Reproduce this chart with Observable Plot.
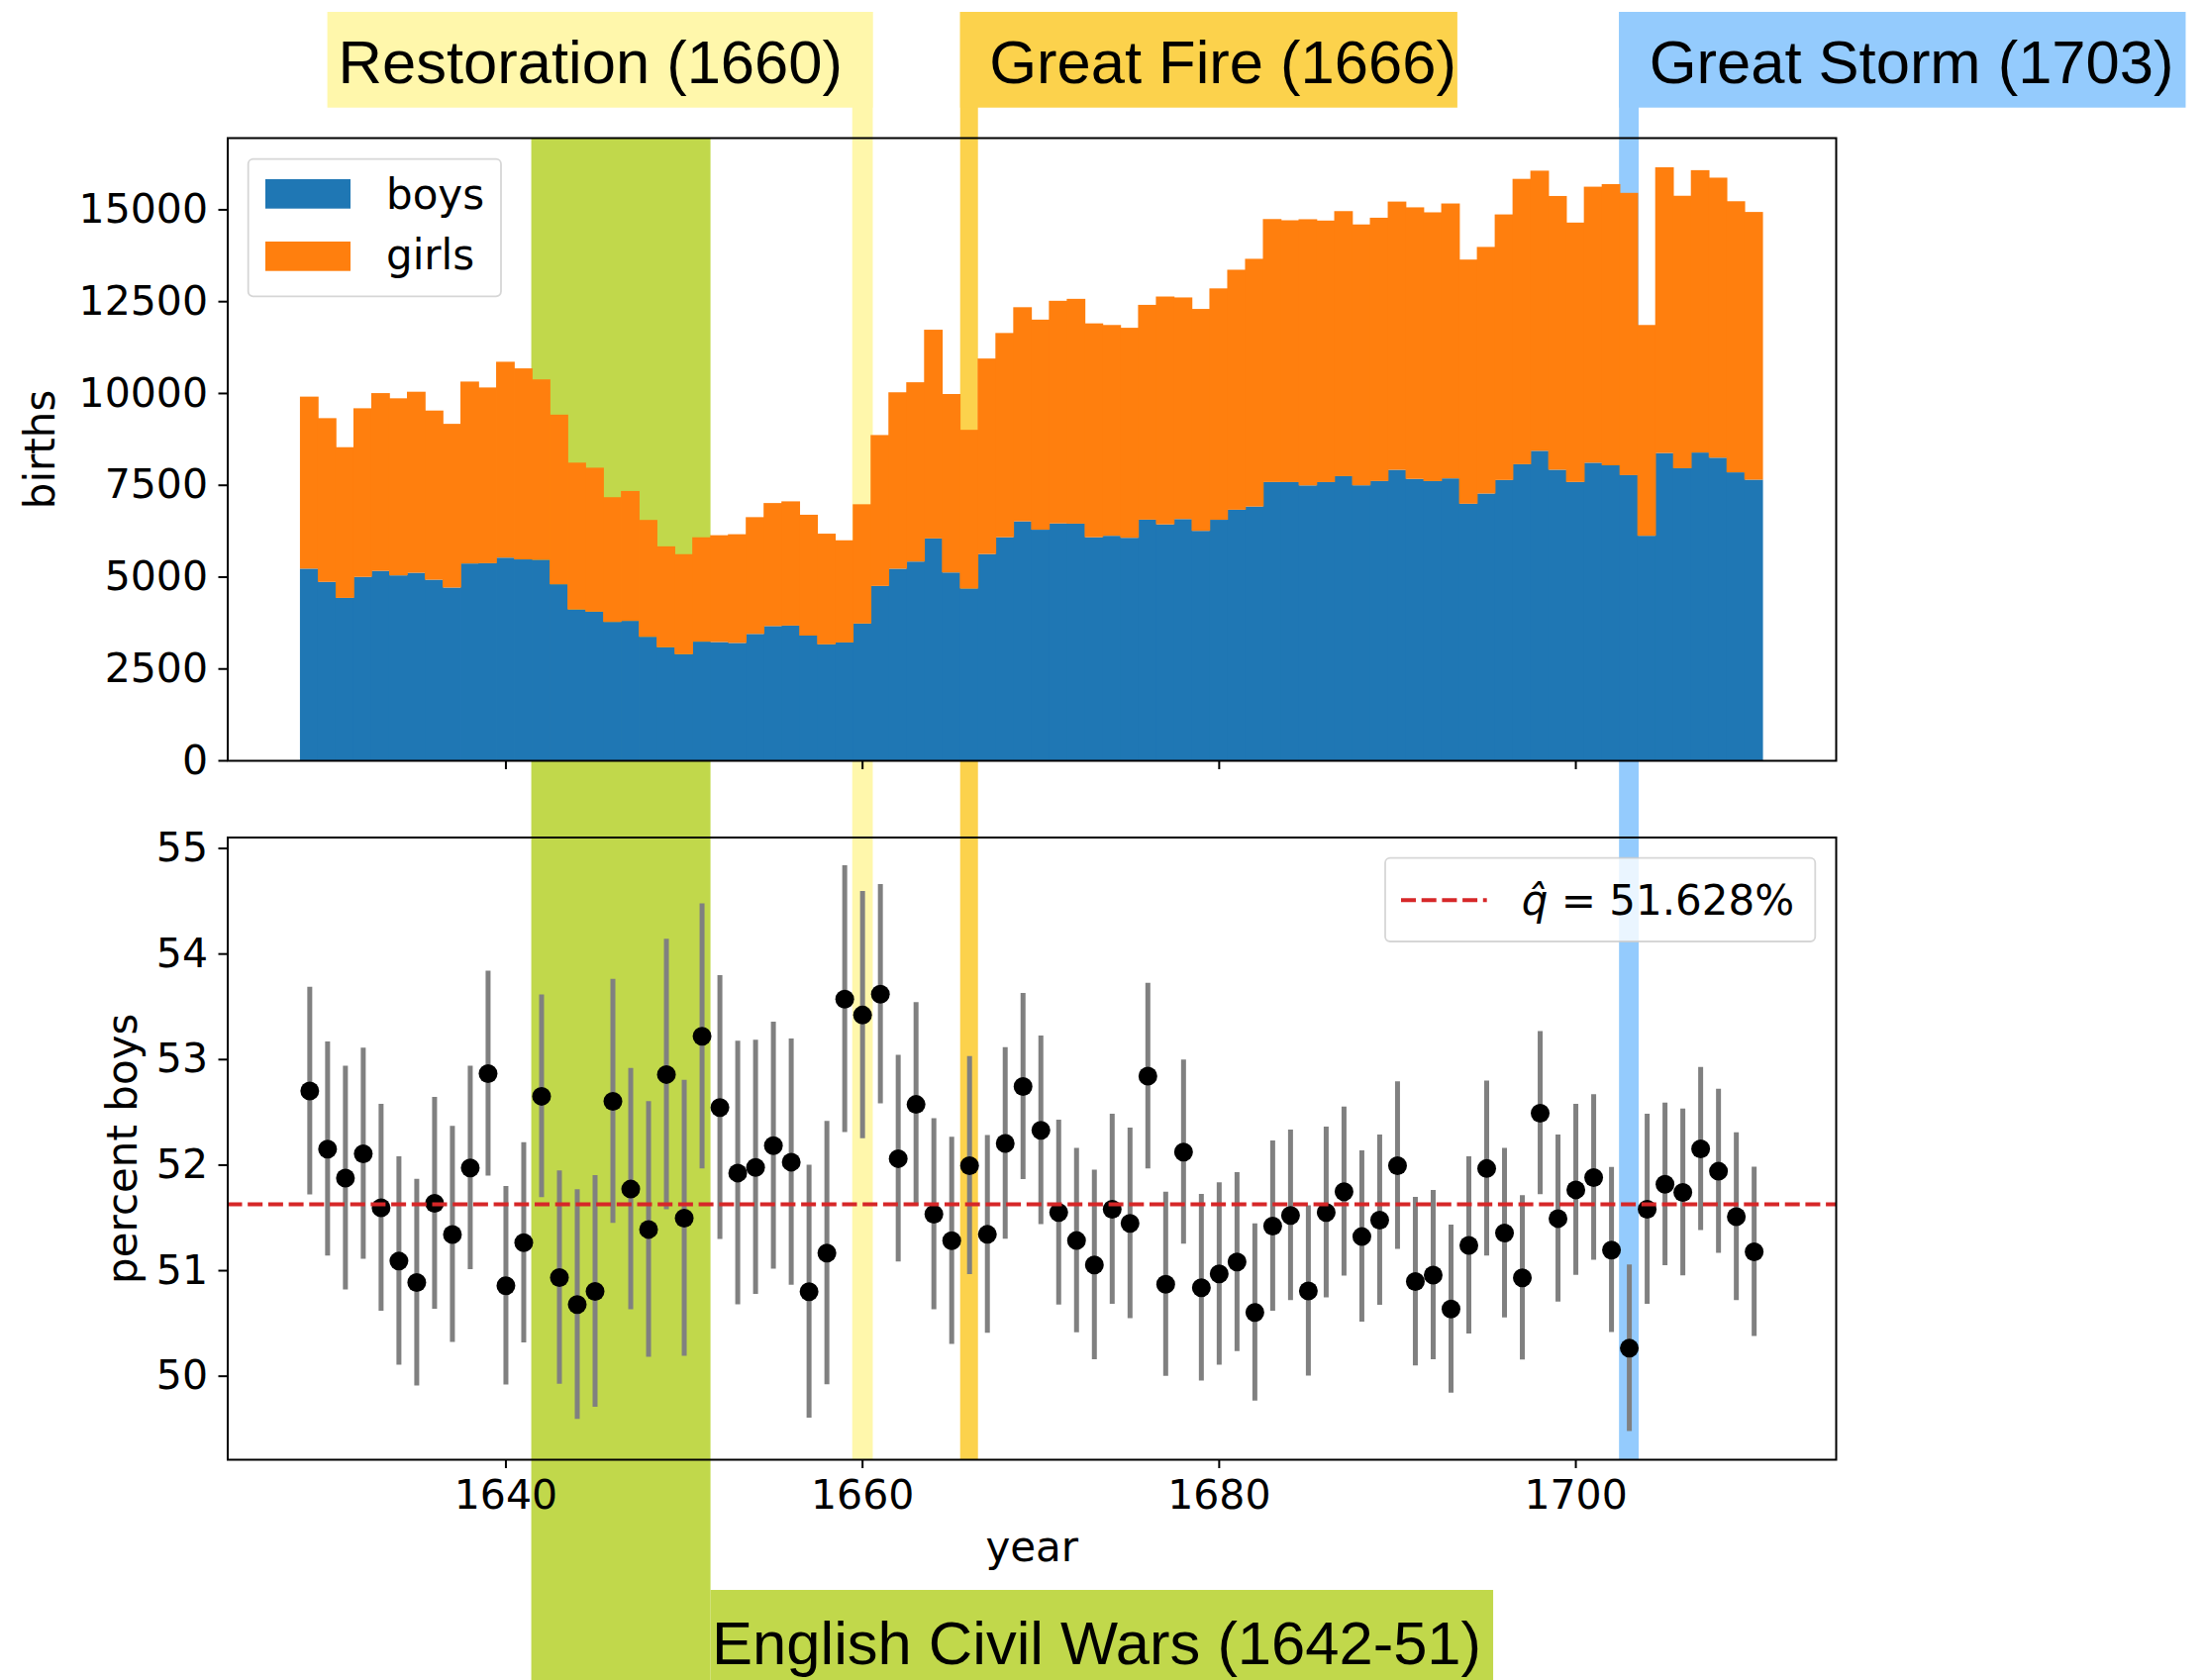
<!DOCTYPE html>
<html>
<head>
<meta charset="utf-8">
<script src="https://cdn.jsdelivr.net/npm/d3@7"></script>
<script src="https://cdn.jsdelivr.net/npm/@observablehq/plot@0.6"></script>
<style>
html, body { margin: 0; padding: 0; background: #fff; }
#chart { position: relative; width: 2228px; height: 1697px; overflow: hidden; background: #fff; }
#chart > svg { position: absolute; left: 0; margin: 0; max-width: none; }
</style>
</head>
<body>
<div id="chart"></div>
<script>
// ---------------- data ----------------
const years = [1629,1630,1631,1632,1633,1634,1635,1636,1637,1638,1639,1640,1641,1642,1643,1644,1645,1646,1647,1648,
  1649,1650,1651,1652,1653,1654,1655,1656,1657,1658,1659,1660,1661,1662,1663,1664,1665,1666,1667,1668,
  1669,1670,1671,1672,1673,1674,1675,1676,1677,1678,1679,1680,1681,1682,1683,1684,1685,1686,1687,1688,
  1689,1690,1691,1692,1693,1694,1695,1696,1697,1698,1699,1700,1701,1702,1703,1704,1705,1706,1707,1708,
  1709,1710];
const boys = [5218,4858,4422,4994,5158,5035,5106,4917,4703,5359,
  5366,5518,5470,5460,4793,4107,4047,3768,3796,3363,
  3079,2890,3231,3220,3196,3441,3655,3668,3396,3157,
  3209,3724,4748,5216,5411,6041,5114,4678,5616,6073,
  6506,6278,6449,6443,6073,6113,6058,6552,6423,6568,
  6247,6548,6822,6909,7577,7575,7484,7575,7737,7487,
  7604,7909,7662,7602,7676,6985,7263,7632,8062,8426,
  7911,7578,8102,8031,7765,6113,8366,7952,8379,8239,
  7840,7640];
const girls = [4683,4457,4102,4590,4839,4820,4928,4605,4457,4952,
  4784,5332,5200,4910,4617,3997,3919,3395,3536,3181,
  2746,2722,2840,2908,2959,3179,3349,3382,3289,3013,
  2781,3247,4107,4803,4881,5681,4858,4319,5322,5560,
  5829,5719,6061,6120,5822,5738,5717,5847,6203,6033,
  6041,6299,6533,6744,7158,7127,7246,7119,7214,7101,
  7167,7302,7392,7316,7483,6647,6713,7229,7767,7626,
  7452,7061,7514,7656,7683,5738,7779,7417,7687,7623,
  7380,7288];
const qHat = 51.628;
const birthTicks = [0,2500,5000,7500,10000,12500,15000];
const pctTicks = [50,51,52,53,54,55];
const yearTicks = [1640,1660,1680,1700];
const eventNames = ["English Civil Wars (1642-51)", "Restoration (1660)", "Great Fire (1666)", "Great Storm (1703)"];
const eventStart = [1641.45, 1659.45, 1665.5, 1702.45];
const eventEnd = [1651.5, 1660.6, 1666.5, 1703.55];
const seriesNames = ["boys", "girls"];

// ---------------- styles / layout ----------------
const W = 2228, H = 1697;
const mL = 229.5, mR = 374;
const eventColors = ["#c1d84b", "#fff7ab", "#fcd24c", "#94cbfd"];
const seriesColors = ["#1f77b4", "#ff7f0e"];
const tickFont = "'DejaVu Sans', sans-serif";
const labelFont = "'Liberation Sans', Arial, Helvetica, sans-serif";
const evLayout = [
  {bandTop: 139, bandBottom: H, boxTop: 1606, boxBottom: H, baseline: 1680, at: "end", anchor: "start", dx: 1, grow: "right", pad: 12},
  {bandTop: 12, bandBottom: 1474, boxTop: 12, boxBottom: 108.7, baseline: 83.5, at: "end", anchor: "end", dx: -31, grow: "left", pad: 11},
  {bandTop: 12, bandBottom: 1474, boxTop: 12, boxBottom: 108.7, baseline: 83.5, at: "start", anchor: "start", dx: 29, grow: "right", pad: 1},
  {bandTop: 12, bandBottom: 1474, boxTop: 12, boxBottom: 108.7, baseline: 83.5, at: "start", anchor: "start", dx: 30, grow: "right", pad: 12}
];

// ---------------- derived table ----------------
const rows = years.map((year, i) => {
  const n = boys[i] + girls[i];
  const p = boys[i] / n;
  const half = 1.96 * Math.sqrt(p * (1 - p) / n);
  return {year, boys: boys[i], girls: girls[i], total: n, pct: 100 * p, lo: 100 * (p - half), hi: 100 * (p + half)};
});
const x0 = d3.min(years) - 0.5, x1 = d3.max(years) + 0.5;
const xDomain = [x0 - 0.05 * (x1 - x0), x1 + 0.05 * (x1 - x0)];
const birthMax = d3.max(rows, d => d.total) * 1.05;
const pLo = d3.min(rows, d => d.lo), pHi = d3.max(rows, d => d.hi);
const pctDomain = [pLo - 0.05 * (pHi - pLo), pHi + 0.05 * (pHi - pLo)];
const events = eventNames.map((name, i) => ({name, start: eventStart[i], end: eventEnd[i]}));

const chart = document.getElementById("chart");

// ---------------- background: event bands + labels ----------------
const bgMarks = [];
events.forEach((ev, i) => {
  const L = evLayout[i];
  bgMarks.push(Plot.rect([ev], {x1: "start", x2: "end", y1: L.bandTop, y2: L.bandBottom, fill: eventColors[i]}));
});
events.forEach((ev, i) => {
  const L = evLayout[i];
  bgMarks.push(Plot.text([ev], {x: L.at, y: L.baseline, text: "name", textAnchor: L.anchor, lineAnchor: "bottom",
    dx: L.dx, fontSize: 61.5, fontFamily: labelFont, fill: "black"}));
});
const bg = Plot.plot({
  width: W, height: H, marginLeft: mL, marginRight: mR, marginTop: 0, marginBottom: 0,
  x: {domain: xDomain, axis: null},
  y: {type: "identity", axis: null},
  style: {background: "transparent", overflow: "visible"},
  marks: bgMarks
});
bg.style.top = "0px";
chart.appendChild(bg);
{
  const xs = bg.scale("x");
  const sRect = bg.getBoundingClientRect();
  const texts = Array.from(bg.querySelectorAll("text"));
  events.forEach((ev, i) => {
    const L = evLayout[i];
    const t = texts.find(el => el.textContent === ev.name);
    if (!t) return;
    const r = t.getBoundingClientRect();
    const tl = r.left - sRect.left, tr = r.right - sRect.left;
    let left, right;
    if (L.grow === "left") { left = tl - L.pad; right = xs.apply(ev.end); }
    else { left = xs.apply(ev[L.at]); right = tr + L.pad; }
    const g = t.parentNode;
    const rect = document.createElementNS("http://www.w3.org/2000/svg", "rect");
    rect.setAttribute("x", left);
    rect.setAttribute("y", L.boxTop);
    rect.setAttribute("width", right - left);
    rect.setAttribute("height", L.boxBottom - L.boxTop);
    rect.setAttribute("fill", eventColors[i]);
    g.parentNode.insertBefore(rect, g);
  });
}

// ---------------- top panel: births ----------------
const topPlot = Plot.plot({
  width: W, height: 800, marginLeft: mL, marginRight: mR, marginTop: 139, marginBottom: 32,
  x: {domain: xDomain},
  y: {domain: [0, birthMax]},
  style: {background: "transparent", overflow: "visible", fontFamily: tickFont},
  marks: [
    Plot.rect(rows, {x1: d => d.year - 0.5, x2: d => d.year + 0.5, y1: 0, y2: "boys", fill: seriesColors[0], insetLeft: -0.4, insetRight: -0.4}),
    Plot.rect(rows, {x1: d => d.year - 0.5, x2: d => d.year + 0.5, y1: "boys", y2: "total", fill: seriesColors[1], insetLeft: -0.4, insetRight: -0.4}),
    Plot.axisY({ticks: birthTicks, tickSize: 9, tickPadding: 11, fontSize: 41, tickFormat: d3.format("d"), label: null, strokeWidth: 2, stroke: "black", fill: "black"}),
    Plot.axisX({ticks: yearTicks, tickSize: 9, tickFormat: () => "", label: null, strokeWidth: 2, stroke: "black"}),
    Plot.text(["births"], {frameAnchor: "left", dx: 41 - mL, rotate: -90, textAnchor: "middle", lineAnchor: "middle", fontSize: 42, fill: "black", fontFamily: tickFont}),
    Plot.frame({stroke: "black", strokeWidth: 2})
  ]
});
topPlot.style.top = "0px";
chart.appendChild(topPlot);

// ---------------- bottom panel: percent boys ----------------
const botTop = 780;
const botPlot = Plot.plot({
  width: W, height: H - botTop, marginLeft: mL, marginRight: mR, marginTop: 845.5 - botTop, marginBottom: H - 1474,
  x: {domain: xDomain},
  y: {domain: pctDomain},
  style: {background: "transparent", overflow: "visible", fontFamily: tickFont},
  marks: [
    Plot.ruleX(rows, {x: "year", y1: "lo", y2: "hi", stroke: "#808080", strokeWidth: 5}),
    Plot.dot(rows, {x: "year", y: "pct", r: 9.5, fill: "black"}),
    Plot.ruleY([qHat], {stroke: "#d62728", strokeWidth: 4, strokeDasharray: "15,5.7"}),
    Plot.axisY({ticks: pctTicks, tickSize: 9, tickPadding: 11, fontSize: 41, tickFormat: d3.format("d"), label: null, strokeWidth: 2, stroke: "black", fill: "black"}),
    Plot.axisX({ticks: yearTicks, tickSize: 9, tickPadding: 11, fontSize: 41, tickFormat: d3.format("d"), label: null, strokeWidth: 2, stroke: "black", fill: "black"}),
    Plot.text(["percent boys"], {frameAnchor: "left", dx: 124 - mL, rotate: -90, textAnchor: "middle", lineAnchor: "middle", fontSize: 42, fill: "black", fontFamily: tickFont}),
    Plot.text(["year"], {frameAnchor: "bottom", dy: 102, lineAnchor: "bottom", fontSize: 42, fill: "black", fontFamily: tickFont}),
    Plot.frame({stroke: "black", strokeWidth: 2})
  ]
});
botPlot.style.top = botTop + "px";
chart.appendChild(botPlot);

// ---------------- legends overlay ----------------
const ov = d3.create("svg").attr("width", W).attr("height", H).style("top", "0px")
  .attr("font-family", tickFont);
// top legend
ov.append("rect").attr("x", 250.7).attr("y", 160.7).attr("width", 255.3).attr("height", 138.6).attr("rx", 5)
  .attr("fill", "white").attr("fill-opacity", 0.8).attr("stroke", "#cccccc").attr("stroke-opacity", 0.8).attr("stroke-width", 1.8);
seriesNames.forEach((name, i) => {
  ov.append("rect").attr("x", 268).attr("y", 181 + 63 * i).attr("width", 86).attr("height", 29.7).attr("fill", seriesColors[i]);
  ov.append("text").attr("x", 390).attr("y", 211 + 61 * i).attr("font-size", 42).attr("fill", "black").text(name);
});
// bottom legend
ov.append("rect").attr("x", 1399).attr("y", 866.7).attr("width", 434.3).attr("height", 84.3).attr("rx", 5)
  .attr("fill", "white").attr("fill-opacity", 0.8).attr("stroke", "#cccccc").attr("stroke-opacity", 0.8).attr("stroke-width", 1.8);
ov.append("line").attr("x1", 1415).attr("x2", 1501.7).attr("y1", 909.3).attr("y2", 909.3)
  .attr("stroke", "#d62728").attr("stroke-width", 4).attr("stroke-dasharray", "15,5.7");
const lt = ov.append("text").attr("x", 1536.7).attr("y", 924).attr("font-size", 42).attr("fill", "black");
lt.append("tspan").attr("font-style", "italic").text("q\u0302");
lt.append("tspan").text(" = " + qHat.toFixed(3) + "%");
chart.appendChild(ov.node());
</script>
</body>
</html>
